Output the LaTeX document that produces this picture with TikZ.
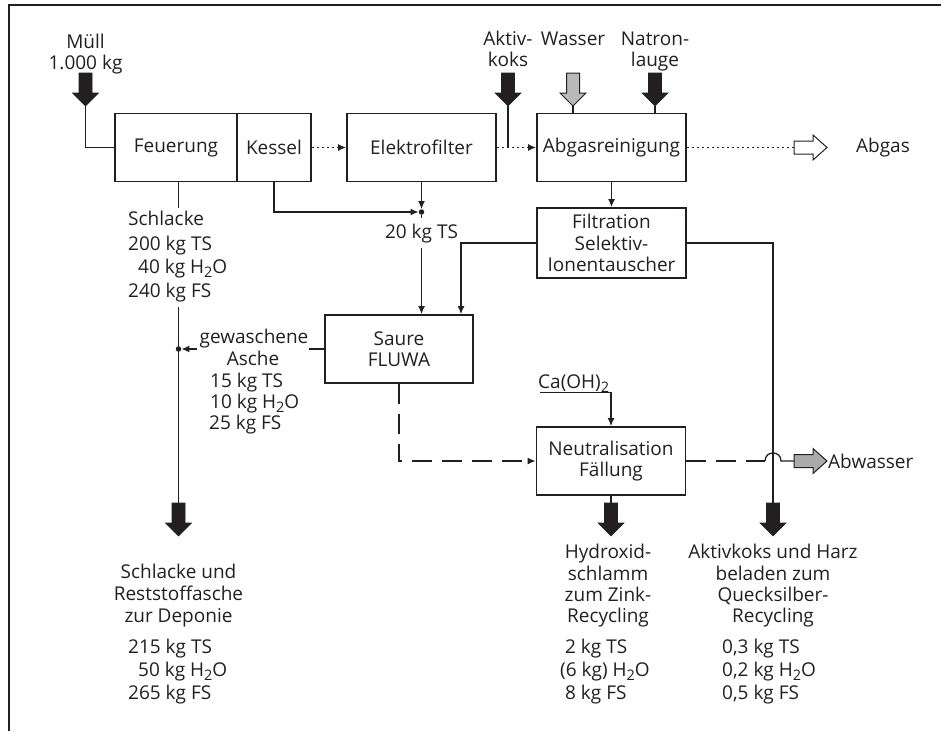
\documentclass[tikz,border=0pt]{standalone}
\usepackage{fontspec}
\setmainfont{Open Sans}
\usetikzlibrary{arrows.meta}
\definecolor{ink}{HTML}{231F20}
\definecolor{lgray}{HTML}{B9B9B9}
\definecolor{mgray}{HTML}{ABABAB}
\newcommand{\Hzwo}{H\raisebox{-0.4ex}{\fontsize{14.5}{14.5}\selectfont 2}O}
\newcommand{\subtwo}{\raisebox{-0.4ex}{\fontsize{14.5}{14.5}\selectfont 2}}
\begin{document}
\begin{tikzpicture}[x=1pt,y=-1pt,
  font=\fontsize{19}{21.5}\selectfont, text=ink,
  box/.style={draw=ink, line width=1.8pt, minimum height=68pt, inner sep=1pt, align=center},
  conn/.style={draw=ink, line width=1.3pt},
  tip/.style={-{Latex[length=8pt,width=7pt]}},
  dotl/.style={dash pattern=on 2.5pt off 2.5pt},
  dashl/.style={dash pattern=on 20pt off 10pt},
  lbl/.style={inner sep=0pt},
  jdot/.style={circle, fill=ink, inner sep=0pt, minimum size=5.5pt},
  fatdown/.pic={\path[pic actions] (-6.5,0) -- (6.5,0) -- (6.5,20) -- (13,20) -- (0,33) -- (-13,20) -- (-6.5,20) -- cycle;},
  fatright/.pic={\path[pic actions] (0,-6.5) -- (19,-6.5) -- (19,-12.5) -- (33,0) -- (19,12.5) -- (19,6.5) -- (0,6.5) -- cycle;}
]
\useasboundingbox (0,0) rectangle (941,731);
% frame
\draw[ink, line width=2.5pt] (9,731) -- (9,5) -- (941,5);

% boxes
\node[box, minimum width=122pt] (feu) at (176,147.5) {Feuerung};
\node[box, minimum width=74pt] (kes) at (274,147.5) {Kessel};
\node[box, minimum width=149pt] (elek) at (421.5,147.5) {Elektrofilter};
\node[box, minimum width=149pt] (abg) at (611.5,147.5) {Abgasreinigung};
\node[box, minimum width=149pt, minimum height=70pt] (filt) at (611.5,243) {Filtration\\Selektiv-\\Ionentauscher};
\node[box, minimum width=148pt] (flu) at (399,349) {Saure\\FLUWA};
\node[box, minimum width=149pt] (neu) at (611,461) {Neutralisation\\Fällung};

% top inputs
\node[lbl, anchor=base] (m1) at (85.5,48) {Müll};
\node[lbl, anchor=base] (m2) at (85.5,69) {1.000 kg};
\coordinate (mt) at (85.5,106);
\pic[fill=ink, draw=ink, line width=0.6pt] at (85.5,73) {fatdown};
\draw[conn] (mt) |- (feu.west);

\node[lbl, anchor=base] (a1) at (508,45) {Aktiv-};
\node[lbl, anchor=base] (a2) at (508,66) {koks};
\coordinate (akt) at (508,106);
\pic[fill=ink, draw=ink, line width=0.6pt] at (508,73) {fatdown};
\draw[conn] (akt) -- (akt |- elek.east);

\node[lbl, anchor=base] (w1) at (573,45) {Wasser};
\coordinate (wt) at (573,106);
\pic[fill=lgray, draw=ink, line width=1pt] at (573,73) {fatdown};
\draw[conn] (wt) -- (wt |- abg.north);

\node[lbl, anchor=base] (n1) at (655,45) {Natron-};
\node[lbl, anchor=base] (n2) at (655,66) {lauge};
\coordinate (nt) at (655,106);
\pic[fill=ink, draw=ink, line width=0.6pt] at (655,73) {fatdown};
\draw[conn] (nt) -- (nt |- abg.north);

% gas path
\draw[conn, dotl, tip] (kes.east) -- (elek.west);
\draw[conn, dotl, tip] (elek.east) -- (abg.west);
\coordinate (abgtail) at (794,147.5);
\draw[conn, dotl] (abg.east) -- (abgtail);
\pic[fill=white, draw=ink, line width=1pt] at (abgtail) {fatright};
\node[lbl] (abgas) at (883,147.5) {Abgas};

% 20 kg TS
\node[jdot] (j1) at (421.5,212) {};
\draw[conn, tip] (elek.south) -- (j1.north);
\draw[conn, tip] (kes.south) |- (j1.west);
\draw[conn] (j1) -- ++(0,6);
\node[lbl, anchor=base] (ts20) at (421.5,238) {20 kg TS};
\coordinate (ts20b) at (421.5,248);
\draw[conn, tip] (ts20b) -- (ts20b |- flu.north);

% Filtration
\draw[conn, tip] (abg.south) -- (filt.north);
\draw[conn, tip] (filt.west) -| ([xshift=62pt]flu.north);
\coordinate (hgtop) at (773,503);
\draw[conn] (filt.east) -| (hgtop);
\pic[fill=ink, draw=ink, line width=0.6pt] at (hgtop) {fatdown};

% Schlacke line
\coordinate (s0) at (178.5,208);
\draw[conn] ([xshift=2.5pt]feu.south) -- (s0);
\node[lbl, anchor=base west] (s1) at (128,225) {Schlacke};
\node[lbl, anchor=base west] (s2) at (128,250) {200 kg TS};
\node[lbl, anchor=base west] (s3) at (138,273) {40 kg \Hzwo};
\node[lbl, anchor=base west] (s4) at (128,297) {240 kg FS};
\coordinate (sl1) at (178.5,307);
\coordinate (sltop) at (178.5,503);
\draw[conn] (sl1) -- (sltop);
\pic[fill=ink, draw=ink, line width=0.6pt] at (sltop) {fatdown};
\node[jdot] (j2) at (178.5,349) {};

% gewaschene Asche
\node[lbl, anchor=base] (gw) at (254,343) {gewaschene};
\draw[conn] (flu.west) -- (flu.west -| gw.east);
\draw[conn, tip] ([xshift=-2pt]flu.west -| gw.west) -- (j2.east);
\node[lbl, anchor=base] (as) at (253,365) {Asche};
\node[lbl, anchor=base west] (g1) at (210,387) {15 kg TS};
\node[lbl, anchor=base west] (g2) at (210,408) {10 kg \Hzwo};
\node[lbl, anchor=base west] (g3) at (209,429) {25 kg FS};

% FLUWA -> Neutralisation
\draw[conn, dashl, tip] (flu.south) |- (neu.west);
\node[lbl, anchor=base west] (ca) at (538,388) {Ca(OH)\subtwo};
\draw[conn, tip] ([xshift=2pt]ca.south west) -| (neu.north);

% Abwasser
\coordinate (bw1) at (765,461);
\coordinate (bw2) at (781,461);
\coordinate (awtail) at (794,461);
\draw[conn, dashl] (neu.east) -- (bw1);
\draw[conn] (bw1) .. controls (765,450.3) and (781,450.3) .. (bw2) -- (awtail);
\pic[fill=mgray, draw=ink, line width=1pt] at (awtail) {fatright};
\node[lbl, anchor=west] (abw) at (828,461) {Abwasser};

% Hydroxid outlet
\coordinate (hytop) at (611,503);
\draw[conn] (neu.south) -- (hytop);
\pic[fill=ink, draw=ink, line width=0.6pt] at (hytop) {fatdown};

% bottom texts left
\node[lbl, anchor=base] (d1) at (178.5,578) {Schlacke und};
\node[lbl, anchor=base] (d2) at (178.5,600) {Reststoffasche};
\node[lbl, anchor=base] (d3) at (178.5,622) {zur Deponie};
\node[lbl, anchor=base west] (d4) at (128,653) {215 kg TS};
\node[lbl, anchor=base west] (d5) at (138,676) {50 kg \Hzwo};
\node[lbl, anchor=base west] (d6) at (128,699) {265 kg FS};

% bottom texts middle
\node[lbl, anchor=base] (h1) at (608,558) {Hydroxid-};
\node[lbl, anchor=base] (h2) at (608,580) {schlamm};
\node[lbl, anchor=base] (h3) at (608,601) {zum Zink-};
\node[lbl, anchor=base] (h4) at (608,622) {Recycling};
\node[lbl, anchor=base west] (h5) at (565,653) {2 kg TS};
\node[lbl, anchor=base west] (h6) at (560,676) {(6 kg) \Hzwo};
\node[lbl, anchor=base west] (h7) at (565,699) {8 kg FS};

% bottom texts right
\node[lbl, anchor=base] (q1) at (773,558) {Aktivkoks und Harz};
\node[lbl, anchor=base] (q2) at (773,580) {beladen zum};
\node[lbl, anchor=base] (q3) at (773,601) {Quecksilber-};
\node[lbl, anchor=base] (q4) at (773,622) {Recycling};
\node[lbl, anchor=base west] (q5) at (722,653) {0,3 kg TS};
\node[lbl, anchor=base west] (q6) at (722,676) {0,2 kg \Hzwo};
\node[lbl, anchor=base west] (q7) at (722,699) {0,5 kg FS};
\end{tikzpicture}
\end{document}
